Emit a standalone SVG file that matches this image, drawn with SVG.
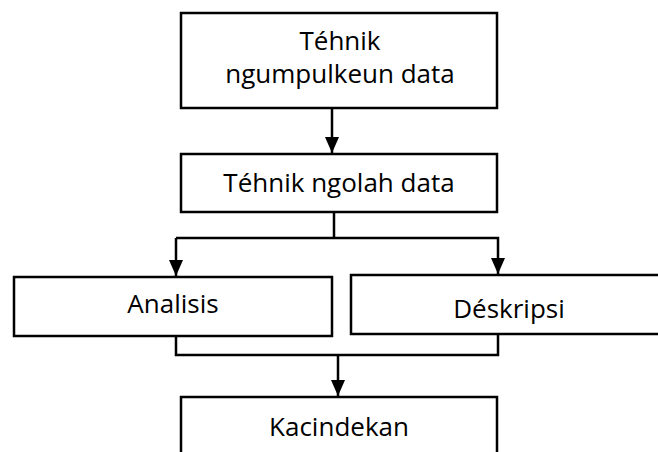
<svg xmlns="http://www.w3.org/2000/svg" width="658" height="452" viewBox="0 0 658 452">
<style>
.box{fill:#fff;stroke:#000;stroke-width:2.5}
.lbl{font-family:"Open Sans","Noto Sans","Liberation Sans",sans-serif;font-size:26px;fill:#000;text-anchor:middle}
.con{fill:none;stroke:#000;stroke-width:2.5}
</style>
<defs>
<marker id="arr" markerUnits="userSpaceOnUse" markerWidth="16" markerHeight="14" viewBox="0 0 16 14" refX="16" refY="7" orient="auto">
<path d="M0,0 L16,7 L0,14 z" fill="#000"/>
</marker>
</defs>
<rect width="658" height="452" fill="#fff"/>
<g id="connectors">
<line class="con" x1="332" y1="108" x2="332" y2="153" marker-end="url(#arr)"/>
<polyline class="con" points="334,212 334,238"/>
<polyline class="con" points="176,238 498,238 498,274" marker-end="url(#arr)"/>
<line class="con" x1="176" y1="238" x2="176" y2="276" marker-end="url(#arr)"/>
<polyline class="con" points="176,336 176,355 498,355 498,334"/>
<line class="con" x1="338" y1="355" x2="338" y2="396" marker-end="url(#arr)"/>
</g>
<g id="n1">
<rect class="box" x="181" y="13" width="316" height="95"/>
<text class="lbl" x="340" y="50">Téhnik</text>
<text class="lbl" x="340" y="83">ngumpulkeun data</text>
</g>
<g id="n2">
<rect class="box" x="181" y="154" width="316" height="58"/>
<text class="lbl" x="339" y="192">Téhnik ngolah data</text>
</g>
<g id="n3">
<rect class="box" x="14" y="277" width="318" height="59"/>
<text class="lbl" x="173" y="313">Analisis</text>
</g>
<g id="n4">
<rect class="box" x="351" y="275" width="320" height="59"/>
<text class="lbl" x="509" y="318">Déskripsi</text>
</g>
<g id="n5">
<rect class="box" x="181" y="397" width="316" height="80"/>
<text class="lbl" x="339" y="436">Kacindekan</text>
</g>
</svg>
